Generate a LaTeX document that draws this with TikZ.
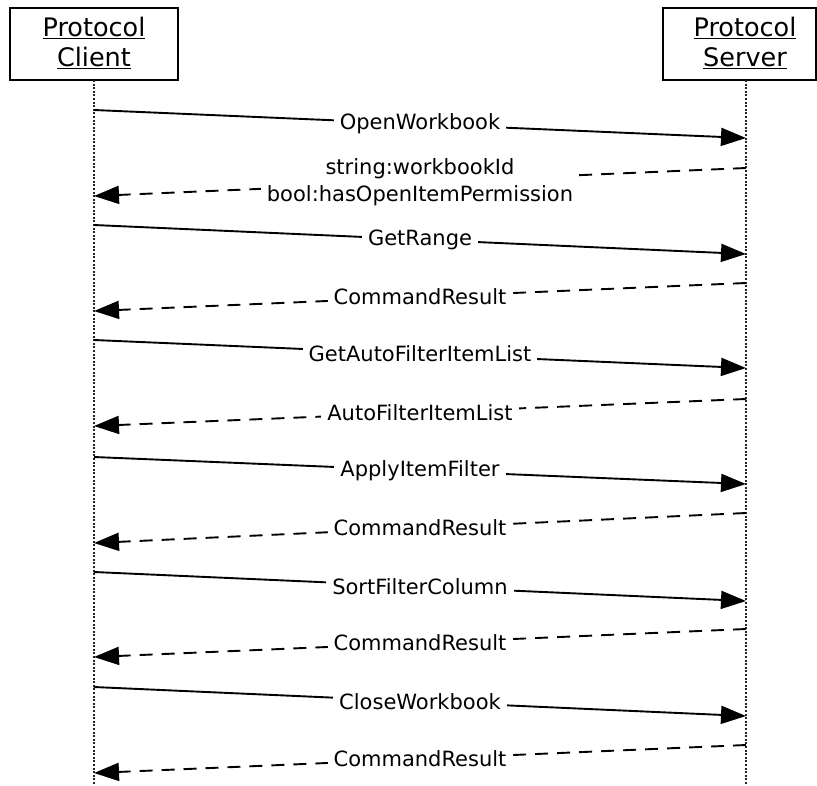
\documentclass[tikz,border=0pt]{standalone}
\usepackage{fontspec}
\setmainfont{DejaVu Sans}
\usetikzlibrary{arrows.meta}
\begin{document}
\begin{tikzpicture}[x=1pt,y=-1pt,
  font=\fontsize{21}{28}\selectfont,
  actor/.style={draw, line width=1.8pt, minimum width=168pt, minimum height=72pt, inner sep=0pt},
  actortext/.style={align=center, inner sep=0pt, font=\fontsize{25.5}{30}\selectfont},
  lifeline/.style={line width=1.9pt, black!85, dash pattern=on 2pt off 1.6pt},
  req/.style={line width=1.9pt, -{Triangle[length=25pt,width=18pt]}},
  ret/.style={line width=1.9pt, dash pattern=on 13pt off 9pt, -{Triangle[length=25pt,width=18pt]}},
  lbl/.style={fill=white, inner xsep=6pt, inner ysep=2pt, align=center}]
\useasboundingbox (0,0) rectangle (817,785);
% actors
\node[actor] (client) at (94,44) {};
\node[actortext] (clienttext) at (94,43) {\underline{Protocol}\\\underline{Client}};
\node[actor, minimum width=153pt] (server) at (739.5,44) {};
\node[actortext] (servertext) at (745,43) {\underline{Protocol}\\\underline{Server}};
% lifelines
\coordinate (ctop) at (94,80);
\coordinate (cbot) at (94,785);
\coordinate (stop) at (746,80);
\coordinate (sbot) at (746,785);
\draw[lifeline] (ctop) -- (cbot);
\draw[lifeline] (stop) -- (sbot);
% message end points
\coordinate (c1) at (94,110);   \coordinate (s1) at (746,138);
\coordinate (s2) at (746,168);  \coordinate (c2) at (94,196);
\coordinate (c3) at (94,225);   \coordinate (s3) at (746,254);
\coordinate (s4) at (746,283);  \coordinate (c4) at (94,311);
\coordinate (c5) at (94,340);   \coordinate (s5) at (746,368);
\coordinate (s6) at (746,399);  \coordinate (c6) at (94,426);
\coordinate (c7) at (94,457);   \coordinate (s7) at (746,484);
\coordinate (s8) at (746,513);  \coordinate (c8) at (94,543);
\coordinate (c9) at (94,572);   \coordinate (s9) at (746,601);
\coordinate (s10) at (746,629); \coordinate (c10) at (94,657);
\coordinate (c11) at (94,687);  \coordinate (s11) at (746,716);
\coordinate (s12) at (746,745); \coordinate (c12) at (94,773);
% messages
\draw[req] (c1) -- node[lbl] (m1) {OpenWorkbook} (s1);
\draw[ret] (s2) -- node[lbl, inner ysep=1pt] (m2) {string:workbookId\\[-1pt]bool:hasOpenItemPermission} (c2);
\draw[req] (c3) -- node[lbl] (m3) {GetRange} (s3);
\draw[ret] (s4) -- node[lbl] (m4) {CommandResult} (c4);
\draw[req] (c5) -- node[lbl] (m5) {GetAutoFilterItemList} (s5);
\draw[ret] (s6) -- node[lbl] (m6) {AutoFilterItemList} (c6);
\draw[req] (c7) -- node[lbl] (m7) {ApplyItemFilter} (s7);
\draw[ret] (s8) -- node[lbl] (m8) {CommandResult} (c8);
\draw[req] (c9) -- node[lbl] (m9) {SortFilterColumn} (s9);
\draw[ret] (s10) -- node[lbl] (m10) {CommandResult} (c10);
\draw[req] (c11) -- node[lbl] (m11) {CloseWorkbook} (s11);
\draw[ret] (s12) -- node[lbl] (m12) {CommandResult} (c12);
\end{tikzpicture}
\end{document}
